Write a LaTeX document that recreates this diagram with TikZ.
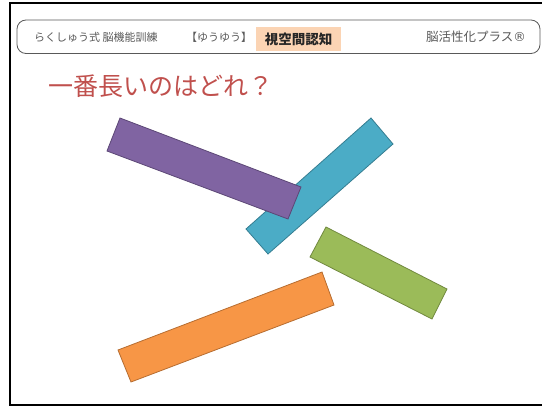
\documentclass[tikz,border=0pt]{standalone}
\usepackage{fontspec}
\setmainfont{Noto Sans CJK JP}
\newfontfamily\symfont{DejaVu Sans}
\usetikzlibrary{positioning}

\definecolor{hdrgray}{HTML}{595959}
\definecolor{peach}{HTML}{FBD4B4}
\definecolor{titlered}{HTML}{C0504D}
\definecolor{purplefill}{HTML}{8064A2}
\definecolor{purpleline}{HTML}{5C4776}
\definecolor{tealfill}{HTML}{4BACC6}
\definecolor{tealline}{HTML}{357D91}
\definecolor{greenfill}{HTML}{9BBB59}
\definecolor{greenline}{HTML}{71893F}
\definecolor{orangefill}{HTML}{F79646}
\definecolor{orangeline}{HTML}{B66D31}

\tikzset{
  hdr/.style={inner sep=0pt,text=hdrgray,font=\fontsize{11}{13}\selectfont},
  bar/.style={line width=0.8pt,line join=miter}
}

\begin{document}
\begin{tikzpicture}[x=1pt,y=-1pt]
  \useasboundingbox (0,0) rectangle (542,407);

  % frame of the sheet
  \draw[line width=2pt] (550,2.5) -- (10,2.5) -- (10,404.5) -- (550,404.5);

  % header
  \draw[hdrgray,line width=0.8pt,rounded corners=9pt] (17,20) rectangle (540,53.5);
  \node[hdr,anchor=west] (brand) at (34,37) {らくしゅう式 脳機能訓練};
  \node[hdr,anchor=west] (yuyu) at (186,37) {【ゆうゆう】};
  \node[fill=peach,inner sep=0pt,minimum width=85pt,minimum height=24pt,text=black!85,
        font=\fontsize{13.5}{15}\selectfont\bfseries] (topic) at (298.5,39) {視空間認知};
  \node[hdr,anchor=east,font=\fontsize{12.5}{14}\selectfont] (plus) at (526,37) {脳活性化プラス{\symfont ®}};

  % question
  \node[anchor=west,inner sep=0pt,text=titlered,font=\fontsize{25}{28}\selectfont] (question) at (48,86.5) {一番長いのはどれ？};

  % bars
  \filldraw[bar,fill=tealfill,draw=tealline] (371,118) -- (393,144) -- (268,254) -- (246,229) -- cycle;
  \filldraw[bar,fill=purplefill,draw=purpleline] (120,118) -- (301,187) -- (288,219) -- (107,151) -- cycle;
  \filldraw[bar,fill=greenfill,draw=greenline] (326,227) -- (447,289) -- (432,319) -- (310,257) -- cycle;
  \filldraw[bar,fill=orangefill,draw=orangeline] (322,272) -- (334,305) -- (131,382) -- (118,350) -- cycle;
\end{tikzpicture}
\end{document}
